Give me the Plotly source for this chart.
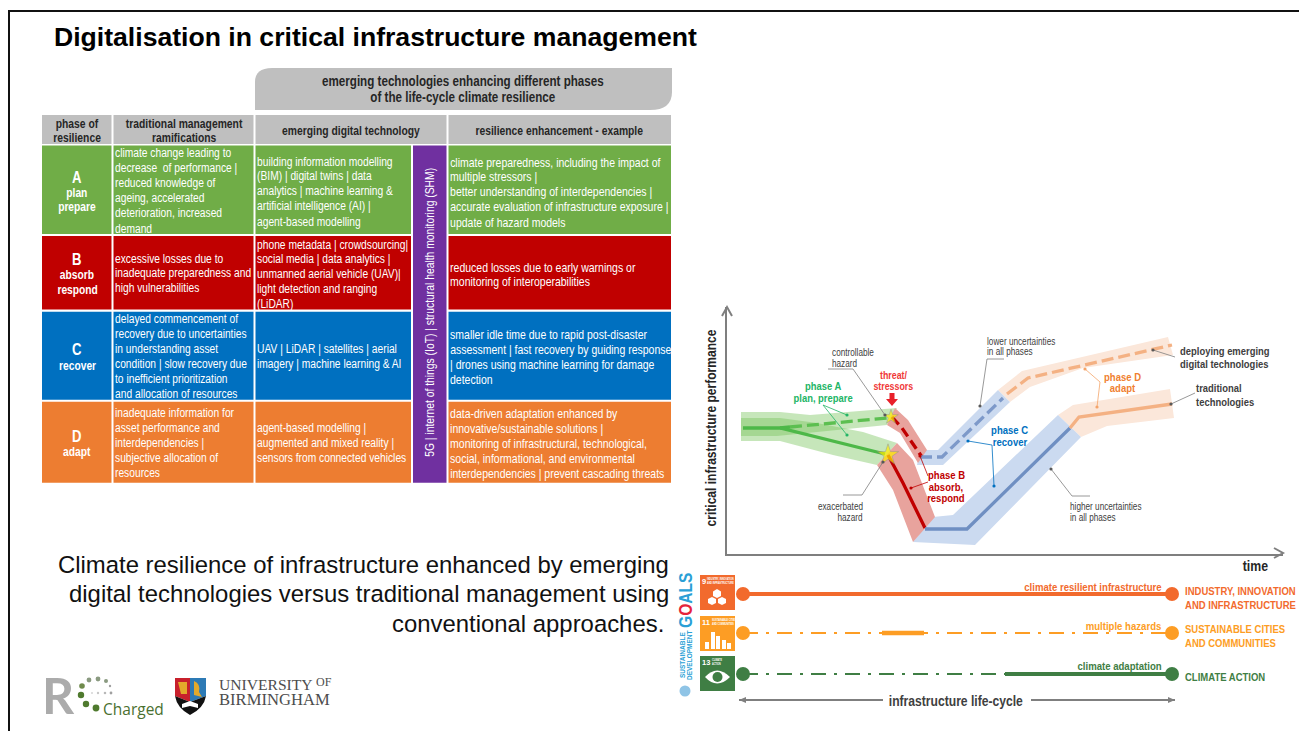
import plotly.graph_objects as go

# ---------- DATA ----------
phase_letters = ["A", "B", "C", "D"]
phase_names = [["plan", "prepare"], ["absorb", "respond"], ["recover"], ["adapt"]]
phase_colors = ["#70ad47", "#c00000", "#0070c0", "#ed7d31"]

header_labels = [["phase of", "resilience"], ["traditional management", "ramifications"],
                 ["emerging digital technology"], ["resilience enhancement - example"]]
banner_lines = ["emerging technologies enhancing different phases", "of the life-cycle climate resilience"]

traditional_text = [
    ["climate change leading to", "decrease  of performance |", "reduced knowledge of", "ageing, accelerated", "deterioration, increased", "demand"],
    ["excessive losses due to", "inadequate preparedness and", "high vulnerabilities"],
    ["delayed commencement of", "recovery due to uncertainties", "in understanding asset", "condition | slow recovery due", "to inefficient prioritization", "and allocation of resources"],
    ["inadequate information for", "asset performance and", "interdependencies |", "subjective allocation of", "resources"],
]
technology_text = [
    ["building information modelling", "(BIM) | digital twins | data", "analytics | machine learning &", "artificial intelligence (AI) |", "agent-based modelling"],
    ["phone metadata | crowdsourcing|", "social media | data analytics |", "unmanned aerial vehicle (UAV)|", "light detection and ranging", "(LiDAR)"],
    ["UAV | LiDAR | satellites | aerial", "imagery | machine learning & AI"],
    ["agent-based modelling |", "augmented and mixed reality |", "sensors from connected vehicles"],
]
enhancement_text = [
    ["climate preparedness, including the impact of", "multiple stressors |", "better understanding of interdependencies |", "accurate evaluation of infrastructure exposure |", "update of hazard models"],
    ["reduced losses due to early warnings or", "monitoring of interoperabilities"],
    ["smaller idle time due to rapid post-disaster", "assessment | fast recovery by guiding response", "| drones using machine learning for damage", "detection"],
    ["data-driven adaptation enhanced by", "innovative/sustainable solutions |", "monitoring of infrastructural, technological,", "social, informational, and environmental", "interdependencies | prevent cascading threats"],
]
purple_label = "5G | internet of things (IoT) | structural health monitoring (SHM)"

title_text = "Digitalisation in critical infrastructure management"
caption_lines = ["Climate resilience of infrastructure enhanced by emerging",
                 "digital technologies versus traditional management using",
                 "conventional approaches."]

# performance curves: (time, performance)
green_em_band_t = [14, 53, 83, 170, 160, 50, 14]
green_em_band_p = [142, 142, 139, 146, 129, 118, 118]
green_tr_band_t = [14, 53, 90, 136, 170, 150, 106, 53, 14]
green_tr_band_p = [136, 136, 131, 122, 111, 89, 99, 113, 113]
red_em_band_t = [168, 181, 200, 191, 173, 160]
red_em_band_p = [146, 134, 104, 91, 121, 129]
red_tr_band_t = [170, 186, 208, 186, 166, 150]
red_tr_band_p = [111, 94, 37, 12, 64, 89]
blue_em_band_t = [193, 211, 271, 283, 216, 190]
blue_em_band_p = [104, 104, 164, 152, 89, 89]
blue_tr_band_t = [206, 226, 331, 354, 248, 186]
blue_tr_band_p = [37, 39, 139, 117, 9, 12]
orange_em_band_t = [271, 295, 441, 446, 356, 303, 283]
orange_em_band_p = [164, 183, 217, 199, 186, 167, 152]
orange_tr_band_t = [331, 346, 443, 447, 380, 354]
orange_tr_band_p = [139, 149, 165, 136, 128, 117]

green_tr_t = [16, 53, 158]; green_tr_p = [126, 126, 100]
green_base_t = [53, 63]; green_base_p = [126, 127]
green_em_t = [63, 160]; green_em_p = [127, 136]
red_em_t = [165, 175, 195]; red_em_p = [137, 126, 97]
red_tr_t = [161, 176, 198]; red_tr_p = [99, 71, 26]
blue_em_t = [193, 215, 276]; blue_em_p = [97, 97, 156]
blue_tr_t = [198, 240, 343]; blue_tr_p = [25, 25, 126]
orange_em_t = [280, 301, 445]; orange_em_p = [160, 176, 209]
orange_tr_t = [343, 352, 445]; orange_tr_p = [126, 137, 150]
hazard_t = [164, 161]; hazard_p = [137, 99]; hazard_size = [11, 16]

sdg_names = [["INDUSTRY, INNOVATION", "AND INFRASTRUCTURE"], ["SUSTAINABLE CITIES", "AND COMMUNITIES"], ["CLIMATE ACTION"]]
sdg_lines = ["climate resilient infrastructure", "multiple hazards", "climate adaptation"]
sdg_numbers = ["9", "11", "13"]
sdg_small = [["INDUSTRY, INNOVATION", "AND INFRASTRUCTURE"], ["SUSTAINABLE CITIES", "AND COMMUNITIES"], ["CLIMATE", "ACTION"]]
sdg_colors = ["#f26a2d", "#fd9d24", "#3f7e44"]
sdg_solid_start = [743, 882, 1005]
sdg_solid_end = [1172, 924, 1172]

# ---------- LAYOUT HELPERS ----------
NARROW = "Liberation Sans Narrow, Liberation Sans, sans-serif"
SANS = "Liberation Sans, sans-serif"
shapes, notes = [], []


def txt(x, y, s, size=12.5, color="#ffffff", bold=False, anchor="left", font=NARROW, angle=0):
    notes.append(dict(x=x, y=y, xref="x", yref="y", text=f"<b>{s}</b>" if bold else s, showarrow=False,
                      xanchor=anchor, yanchor="middle", textangle=angle, borderpad=0, borderwidth=0,
                      font=dict(family=font, size=size, color=color)))


def rect(x0, y0, x1, y1, fill, layer="below"):
    shapes.append(dict(type="rect", xref="x", yref="y", x0=x0, y0=y0, x1=x1, y1=y1, fillcolor=fill,
                       line=dict(width=0), layer=layer))


def path(d, color="#7f7f7f", width=1, fill=None, layer="above", dash=None):
    line = dict(color=color, width=width)
    if dash:
        line["dash"] = dash
    s = dict(type="path", xref="x", yref="y", path=d, line=line, layer=layer)
    if fill:
        s["fillcolor"] = fill
    shapes.append(s)


def dot(x, y, color="#595959", r=1.6):
    shapes.append(dict(type="circle", xref="x", yref="y", x0=x - r, x1=x + r, y0=y - r, y1=y + r,
                       fillcolor=color, line=dict(width=0), layer="above"))


# slide frame
path("M 9 731 L 9 11 L 1299 11", color="#111111", width=2)
txt(54, 37, title_text, size=26.6, color="#000000", bold=True, font=SANS)

# banner
path("M 255 110 L 255 82 Q 255 68 272 68 L 672 68 L 672 92 Q 672 110 650 110 Z", color="#bfbfbf", width=0, fill="#bfbfbf", layer="below")
for y, s in zip([81, 97], banner_lines):
    txt(463, y, s, size=14.2, color="#262626", bold=True, anchor="center")

# table
col_l = [42, 113.5, 255.5, 448.5]
col_r = [111.5, 253.5, 446.5, 671]
row_t = [145.5, 236, 311.7, 401.7]
row_b = [234, 309.5, 399.7, 482.7]
col_c = [77, 184, 351, 559]
for i, lines in enumerate(header_labels):
    rect(col_l[i], 115, col_r[i], 144, "#bfbfbf")
    ys = [124, 138] if len(lines) == 2 else [131]
    for y, s in zip(ys, lines):
        txt(col_c[i], y, s, size=12.6, color="#262626", bold=True, anchor="center")

letter_y = [177, 259, 349, 436]
name_y = [[193, 207], [275, 290], [366], [452]]
trad_y = [[153, 168, 183, 198, 213, 229], [259, 273, 288], [319, 334, 349, 364, 379, 394], [413, 428, 443, 458, 473]]
tech_y = [[162, 176, 191, 206, 222], [245, 259, 274, 289, 304], [349, 364], [428, 443, 458]]
enh_y = [[162, 176, 191, 206, 222], [267, 281], [334, 349, 364, 379], [413, 428, 443, 458, 473]]
for r, color in enumerate(phase_colors):
    rect(col_l[0], row_t[r], col_r[0], row_b[r], color)
    rect(col_l[1], row_t[r], col_r[1], row_b[r], color)
    rect(col_l[2], row_t[r], 411, row_b[r], color)
    rect(col_l[3], row_t[r], col_r[3], row_b[r], color)
    txt(col_c[0], letter_y[r], phase_letters[r], size=16, bold=True, anchor="center")
    for y, s in zip(name_y[r], phase_names[r]):
        txt(col_c[0], y, s, size=12.5, bold=True, anchor="center")
    for y, s in zip(trad_y[r], traditional_text[r]):
        txt(115, y, s)
    for y, s in zip(tech_y[r], technology_text[r]):
        txt(257, y, s)
    for y, s in zip(enh_y[r], enhancement_text[r]):
        txt(450, y, s, size=12.8)
rect(413, 145.5, 446.5, 482.7, "#7030a0")
txt(430, 312.5, purple_label, size=12.6, anchor="center", angle=-90)

# caption
for y, s, xr in zip([564, 593, 623], caption_lines, [669, 669, 664]):
    txt(xr, y, s, size=23.9, color="#111111", anchor="right", font=SANS)

# ---------- logos ----------
txt(42, 695, "R", size=50, color="#ababab", font="Lato, Open Sans, sans-serif", bold=True)
logo_dots = [(82, 686, 2.8, "#6f8a4c"), (89, 680, 2.4, "#8a9a80"), (98, 679, 2.4, "#8a9a80"), (106, 681, 2, "#8a9a80"),
             (110, 686, 1.2, "#a0a0a0"), (111, 693, 1.4, "#a0a0a0"), (105, 693, 1.3, "#b8b8b8"), (98, 693, 1.2, "#c8c8c8"),
             (92, 693, 1.1, "#d8d8d8"), (81, 695, 3.2, "#4f7a2e"), (86, 704, 3.2, "#4f7a2e"), (96, 708, 3.4, "#4f7a2e")]
for x, y, r, c in logo_dots:
    dot(x, y, c, r)
txt(103, 709, "Charged", size=15.5, color="#4a7030", font="Open Sans, sans-serif")
path("M 175 678 L 190 678 L 190 702 L 175 696 Z", color="#c8202c", fill="#c8202c", width=0)
path("M 190 678 L 206 678 L 206 696 L 190 702 Z", color="#2d7ab5", fill="#2d7ab5", width=0)
path("M 175 696 L 190 702 L 206 696 Q 204 708 190 715 Q 177 708 175 696 Z", color="#111111", fill="#111111", width=0)
path("M 182 704 L 190 701 L 198 704 L 198 708 L 190 706 L 182 708 Z", color="#ffffff", fill="#ffffff", width=0)
path("M 178 682 L 187 682 L 187 694 L 181 694 Z", color="#e3a92b", fill="#e3a92b", width=0)
path("M 194 681 Q 201 684 199 692 L 202 697 L 194 695 Z", color="#e3a92b", fill="#e3a92b", width=0)
txt(219, 684, "UNIVERSITY", size=15.6, color="#4d4d4d", font="Liberation Serif, serif")
txt(316, 682, "OF", size=12, color="#4d4d4d", font="Liberation Serif, serif")
txt(219, 699, "BIRMINGHAM", size=16.6, color="#4d4d4d", font="Liberation Serif, serif")

# ---------- performance chart text and leaders ----------
path("M 722 316 L 727 307 L 732 316", width=2)
path("M 1274 548 L 1283 553 L 1274 558", width=2)
txt(711, 428, "critical infrastructure performance", size=14.7, color="#262626", bold=True, anchor="center", angle=-90)
txt(1255, 565, "time", size=15, color="#262626", bold=True, anchor="center")
path("M 889.5 393 L 894.5 393 L 894.5 399 L 898 399 L 892 406 L 886 399 L 889.5 399 Z", color="#e8202a", fill="#e8202a", width=0)
for d in ["M 828 369 L 853 369 L 885 415", "M 883 462 L 862 495 L 843 495", "M 1004 359 L 987 359 L 980 406",
          "M 1051 469 L 1072 496 L 1090 496", "M 1153 350 L 1175 357", "M 1171 404 L 1195 393"]:
    path(d, color="#7f7f7f", width=0.8)
for x, y in [(885, 415), (883, 462), (980, 406), (1051, 469), (1153, 350), (1171, 404)]:
    dot(x, y)
path("M 847 415 L 823 405 L 847 435", color="#22b566", width=0.8)
dot(847, 415, "#22b566"); dot(847, 435, "#22b566")
path("M 911 488 L 928 482 M 920 456 L 928 476", color="#c00000", width=0.8)
dot(911, 488, "#c00000"); dot(920, 456, "#c00000")
path("M 968 441 L 992 445 L 994 486", color="#0070c0", width=0.8)
dot(968, 441, "#0070c0"); dot(994, 486, "#0070c0")
path("M 1085 369 L 1100 382 L 1097 407", color="#f4a46a", width=0.8)
dot(1085, 369, "#f4a46a"); dot(1097, 407, "#f4a46a")

G = "#404040"
for x, y, s in [(832, 352, "controllable"), (832, 363, "hazard"), (987, 341, "lower uncertainties"), (987, 351, "in all phases"),
                (1070, 506, "higher uncertainties"), (1070, 517, "in all phases")]:
    txt(x, y, s, size=10, color=G)
txt(863, 506, "exacerbated", size=10, color=G, anchor="right")
txt(863, 517, "hazard", size=10, color=G, anchor="right")
for x, y, s in [(1180, 351, "deploying emerging"), (1180, 364, "digital technologies"), (1196, 388, "traditional"), (1196, 402, "technologies")]:
    txt(x, y, s, size=11.5, color=G, bold=True)
for y, s in zip([375, 386], ["threat/", "stressors"]):
    txt(893, y, s, size=10.8, color="#f03838", bold=True, anchor="center")
for y, s in zip([386, 398], ["phase A", "plan, prepare"]):
    txt(823, y, s, size=11.5, color="#22b566", bold=True, anchor="center")
for y, s in zip([474, 486, 497], ["phase B", "absorb,", "respond"]):
    txt(946, y, s, size=11.6, color="#c00000", bold=True, anchor="center")
for y, s in zip([429, 441], ["phase C", "recover"]):
    txt(1010, y, s, size=11.6, color="#0070c0", bold=True, anchor="center")
for y, s in zip([376, 387], ["phase D", "adapt"]):
    txt(1122, y, s, size=11.6, color="#f08030", bold=True, anchor="center")

# ---------- SDG strip ----------
sdg_y = [594, 633, 674]
sq_t = [575, 616, 656]
for i, c in enumerate(sdg_colors):
    rect(700, sq_t[i], 735, sq_t[i] + 35, c, layer="above")
    txt(702, sq_t[i] + 6, sdg_numbers[i], size=7.5, bold=True, font=SANS)
    for k, s in enumerate(sdg_small[i]):
        txt(712 if i else 707, sq_t[i] + 4 + k * 3.5, s, size=2.8, bold=True)
    dot(743, sdg_y[i], c, 7)
    dot(1172, sdg_y[i], c, 7)
    if i:
        path(f"M 743 {sdg_y[i]} L 1172 {sdg_y[i]}", color=c, width=1.8, dash="15px,8px,3px,8px")
    path(f"M {sdg_solid_start[i]} {sdg_y[i]} L {sdg_solid_end[i]} {sdg_y[i]}", color=c, width=[4, 4.5, 4][i])
    txt(1162, [586, 625, 665][i], sdg_lines[i], size=11.7, color=c, bold=True, anchor="right")
    ys = [[590, 604], [628, 642], [676]][i]
    for y, s in zip(ys, sdg_names[i]):
        txt(1185, y, s, size=11.6, color=c, bold=True)
# icons
for d in ["M 717 589 L 721 591.5 L 721 596 L 717 598 L 713 596 L 713 591.5 Z", "M 712 597 L 716 599 L 716 603 L 712 605 L 708 603 L 708 599 Z",
          "M 722 597 L 726 599 L 726 603 L 722 605 L 718 603 L 718 599 Z"]:
    path(d, color="#ffffff", fill="#ffffff", width=0)
for x0, y0, x1 in [(705, 642, 709), (711, 632, 715), (716, 636, 720), (722, 640, 726), (727, 643, 731)]:
    rect(x0, y0, x1, 649, "#ffffff", layer="above")
path("M 705 677 Q 717 664 730 677 Q 717 690 705 677 Z", color="#ffffff", fill="#ffffff", width=0)
dot(717.5, 677, "#3f7e44", 5)

txt(685, 600, 'G<span style="color:#e5243b">O</span>ALS', size=19, color="#2a9fd6", bold=True, anchor="center", angle=-90)
txt(682, 655, "SUSTAINABLE", size=6.5, color="#2a9fd6", bold=True, anchor="center", font=SANS, angle=-90)
txt(689, 655, "DEVELOPMENT", size=6.5, color="#2a9fd6", bold=True, anchor="center", font=SANS, angle=-90)
dot(685, 691, "#8fc4e6", 5.5)

# life-cycle arrow
path("M 739 700 L 883 700 M 1031 700 L 1175 700", width=2)
path("M 739 700 L 746 697 L 746 703 Z M 1175 700 L 1168 697 L 1168 703 Z", fill="#7f7f7f", width=0)
txt(956, 701, "infrastructure life-cycle", size=14.8, color=G, bold=True, anchor="center")

# ---------- FIGURE ----------
fig = go.Figure()
# invisible trace to activate the page axes
fig.add_trace(go.Scatter(x=[0, 1299], y=[0, 731], mode="markers", marker=dict(opacity=0), hoverinfo="skip", xaxis="x", yaxis="y"))


def band(t, p, color):
    fig.add_trace(go.Scatter(x=t, y=p, mode="lines", fill="toself", fillcolor=color, line=dict(width=0),
                             hoverinfo="skip", xaxis="x2", yaxis="y2"))


def curve(t, p, color, dash="solid", width=3.3):
    fig.add_trace(go.Scatter(x=t, y=p, mode="lines", line=dict(color=color, width=width, dash=dash),
                             hoverinfo="skip", xaxis="x2", yaxis="y2"))


band(green_em_band_t, green_em_band_p, "rgba(120,195,90,0.42)")
band(green_tr_band_t, green_tr_band_p, "rgba(120,195,90,0.42)")
band(orange_em_band_t, orange_em_band_p, "#fbe7da")
band(orange_tr_band_t, orange_tr_band_p, "#fbe7da")
band(blue_em_band_t, blue_em_band_p, "#cbdaf0")
band(blue_tr_band_t, blue_tr_band_p, "#cbdaf0")
band(red_em_band_t, red_em_band_p, "#e8a39d")
band(red_tr_band_t, red_tr_band_p, "#e8a39d")
curve(green_base_t, green_base_p, "#4db848")
curve(green_em_t, green_em_p, "#5cbf50", dash="12px,5px")
curve(green_tr_t, green_tr_p, "#4db848")
curve(red_em_t, red_em_p, "#c00000", dash="10px,5px")
curve(red_tr_t, red_tr_p, "#c00000")
curve(blue_em_t, blue_em_p, "#7d99c9", dash="12px,5px")
curve(blue_tr_t, blue_tr_p, "#6f8fc2")
curve(orange_em_t, orange_em_p, "#f4b183", dash="12px,5px")
curve(orange_tr_t, orange_tr_p, "#f4b183")
fig.add_trace(go.Scatter(x=hazard_t, y=hazard_p, mode="markers", hoverinfo="skip", xaxis="x2", yaxis="y2",
                         marker=dict(symbol="star", size=hazard_size, color="#ffee00", line=dict(color="#8c8c8c", width=0.6))))

fig.update_layout(
    width=1299, height=731, autosize=False, showlegend=False, margin=dict(l=0, r=0, t=0, b=0),
    paper_bgcolor="#ffffff", plot_bgcolor="rgba(0,0,0,0)", shapes=shapes, annotations=notes,
    xaxis=dict(range=[0, 1299], domain=[0, 1], visible=False, fixedrange=True),
    yaxis=dict(range=[731, 0], domain=[0, 1], visible=False, fixedrange=True),
    xaxis2=dict(range=[0, 556], domain=[727 / 1299, 1283 / 1299], anchor="y2", showgrid=False, zeroline=False,
                showticklabels=False, ticks="", showline=True, linecolor="#7f7f7f", linewidth=2, fixedrange=True),
    yaxis2=dict(range=[0, 247], domain=[(731 - 554) / 731, (731 - 307) / 731], anchor="x2", showgrid=False, zeroline=False,
                showticklabels=False, ticks="", showline=True, linecolor="#7f7f7f", linewidth=2, fixedrange=True),
)

# No condensed face is installed: the narrow labels are Liberation Sans squeezed to Arial Narrow's 82 % set width,
# each about its own anchor, so that every label stays real text.
squeeze = """
document.body.style.margin='0';document.documentElement.style.overflow='hidden';
var gd=document.querySelector('.js-plotly-plot');
document.querySelectorAll('g.annotation').forEach(function(g){
  var a=gd.layout.annotations[+g.getAttribute('data-index')];
  if(!a||a.font.family.indexOf('Narrow')<0)return;
  var t=g.querySelector('text');if(!t)return;
  var b=t.getBBox(),k=0.82;
  var p=a.xanchor==='left'?b.x:(a.xanchor==='right'?b.x+b.width:b.x+b.width/2);
  t.setAttribute('transform','translate('+(p*(1-k))+',0) scale('+k+',1)');
});
"""
fig.write_html("out.html", config={"displayModeBar": False}, post_script=squeeze)
